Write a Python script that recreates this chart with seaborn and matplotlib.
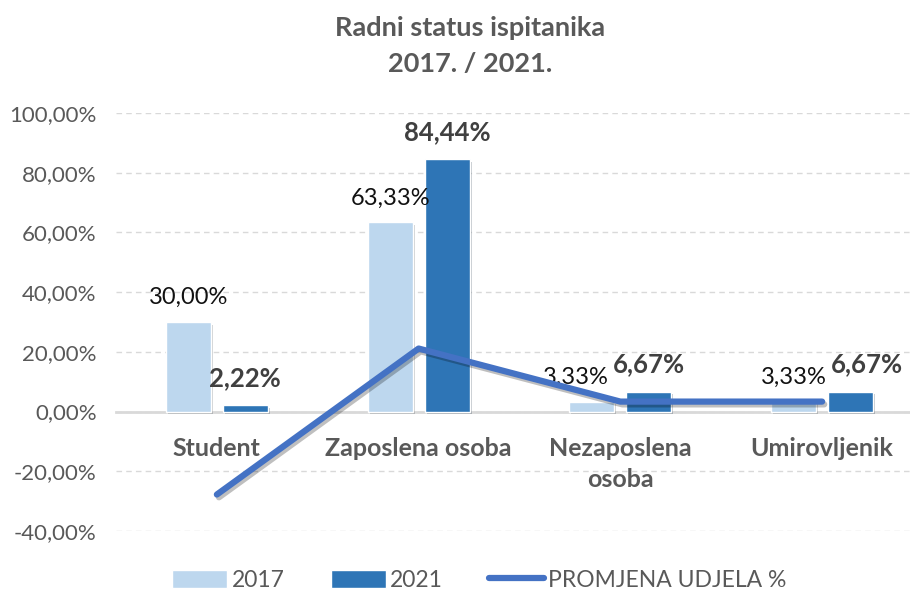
import numpy as np
import pandas as pd
import seaborn as sns
import matplotlib.pyplot as plt
from matplotlib.patches import Patch
from matplotlib.lines import Line2D
from matplotlib.ticker import FuncFormatter
import matplotlib.patheffects as pe

# Data
categories = ["Student", "Zaposlena osoba", "Nezaposlena\nosoba", "Umirovljenik"]
years = ["2017", "2021"]
share_2017 = [30.00, 63.33, 3.33, 3.33]
share_2021 = [2.22, 84.44, 6.67, 6.67]
change = [-27.78, 21.11, 3.34, 3.34]

c_2017 = "#BDD7EE"
c_2021 = "#2E75B6"
c_line = "#4472C4"
gray = "#595959"


def pct(v):
    return f"{v:.2f}".replace(".", ",") + "%"


df = pd.DataFrame({
    "kategorija": categories * 2,
    "godina": [years[0]] * 4 + [years[1]] * 4,
    "udio": share_2017 + share_2021,
})

sns.set_style("white")
plt.rcParams["font.family"] = ["Lato", "DejaVu Sans"]

fig = plt.figure(figsize=(9.1, 5.97), dpi=100)
ax = fig.add_axes([116 / 910, 66 / 597, 807 / 910, 418 / 597])

shadow = [pe.SimplePatchShadow(offset=(1.5, -2), alpha=0.25), pe.Normal()]

sns.barplot(data=df, x="kategorija", y="udio", hue="godina",
            palette=[c_2017, c_2021], saturation=1, width=0.565, gap=0.21,
            legend=False, ax=ax, zorder=2)
for p in ax.patches:
    p.set_path_effects(shadow)

# data labels
lbl_2017 = ax.bar_label(ax.containers[0], labels=[pct(v) for v in share_2017],
                        padding=10, fontsize=17, color="#111111")
lbl_2021 = ax.bar_label(ax.containers[1], labels=[pct(v) for v in share_2021],
                        padding=11, fontsize=18.5, fontweight="bold", color="#404040")
# a couple of labels were nudged sideways in the original (offset in points)
lbl_2017[2].xyann = (-11.5, 10)
lbl_2021[3].xyann = (11.5, 11)

# change line
sns.pointplot(x=categories, y=change, color=c_line, markers="", linestyles="-",
              linewidth=4.5, ax=ax, zorder=3, errorbar=None)
for ln in ax.lines:
    ln.set_solid_capstyle("round")
    ln.set_solid_joinstyle("round")
    ln.set_path_effects([pe.SimpleLineShadow(offset=(1.5, -2), alpha=0.25), pe.Normal()])

ax.set_xlim(-0.5, 3.5)
ax.set_ylim(-40, 100)
ax.set_yticks(np.arange(-40, 101, 20))
ax.yaxis.set_major_formatter(FuncFormatter(lambda v, _: pct(v)))
ax.grid(axis="y", color="#D9D9D9", linestyle=(0, (4, 3)), linewidth=1)
ax.set_axisbelow(True)

for s in ["left", "right", "top"]:
    ax.spines[s].set_visible(False)
ax.spines["bottom"].set_position(("data", 0))
ax.spines["bottom"].set_color("#D9D9D9")
ax.spines["bottom"].set_linewidth(2)
ax.spines["bottom"].set_zorder(1)

ax.tick_params(axis="y", length=0, labelsize=16, labelcolor=gray, pad=14)
ax.tick_params(axis="x", length=0, labelsize=18, labelcolor=gray, pad=18)
for t in ax.get_xticklabels():
    t.set_fontweight("bold")
    t.set_linespacing(1.45)
ax.set_xlabel("")
ax.set_ylabel("")

fig.text(0.517, 0.923, "Radni status ispitanika\n2017. / 2021.", ha="center", va="center",
         fontsize=19.5, fontweight="bold", color=gray, linespacing=1.6)

handles = [
    Patch(facecolor=c_2017, label="2017"),
    Patch(facecolor=c_2021, label="2021"),
    Line2D([0], [0], color=c_line, linewidth=4.5, solid_capstyle="round", label="PROMJENA UDJELA %"),
]
fig.legend(handles=handles, loc="center", bbox_to_anchor=(0.527, 0.028), ncol=3,
           frameon=False, fontsize=16.5, labelcolor=gray, handlelength=2.4,
           handleheight=0.8, handletextpad=0.2, columnspacing=2.0)

fig.savefig("out.png", dpi=100)
